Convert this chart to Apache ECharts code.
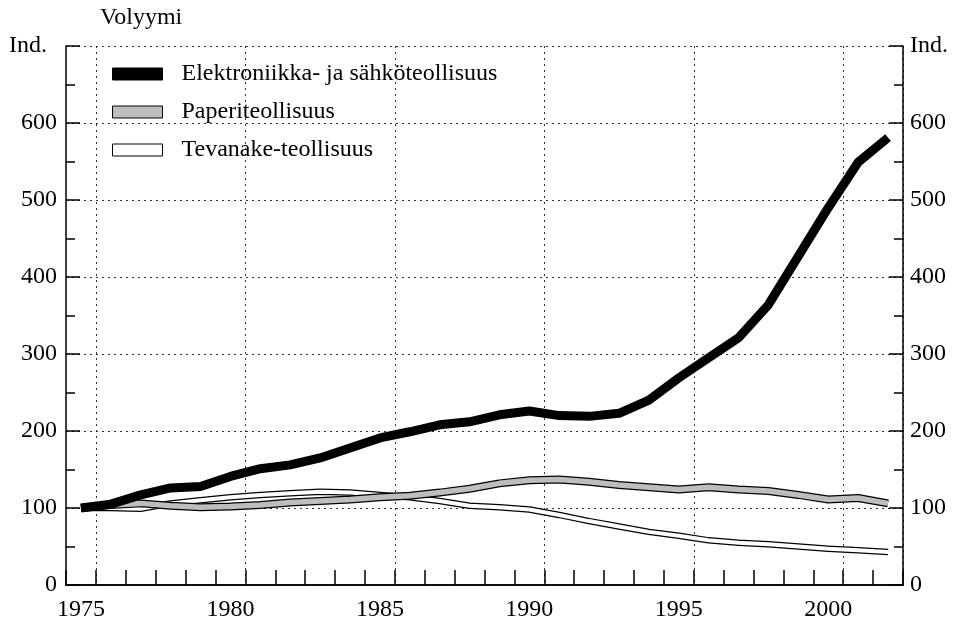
<!DOCTYPE html>
<html>
<head>
<meta charset="utf-8">
<script src="https://cdn.jsdelivr.net/npm/echarts@6/dist/echarts.min.js"></script>
<style>
  html, body { margin: 0; padding: 0; background: #fff; }
  #chart { width: 958px; height: 623px; }
</style>
</head>
<body>
<div id="chart"></div>
<script>
// vuodet 1975-2002, indeksi 1975 = 100
const years = ["1975", "1976", "1977", "1978", "1979", "1980", "1981", "1982", "1983", "1984",
  "1985", "1986", "1987", "1988", "1989", "1990", "1991", "1992", "1993", "1994",
  "1995", "1996", "1997", "1998", "1999", "2000", "2001", "2002"];

const elektroniikka = [100, 105, 117, 126, 128, 141, 151, 156, 165, 178,
  191, 199, 208, 212, 221, 226, 220, 219, 223, 240,
  269, 295, 321, 364, 427, 490, 549, 581];

const paperi = [100, 104, 106, 103, 101, 102, 104, 107, 109, 111,
  114, 116, 120, 125, 132, 136, 137, 134, 130, 127,
  124, 127, 124, 122, 117, 111, 113, 106];

const tevanake = [100, 100, 99, 106, 110, 114, 117, 119, 121, 120,
  117, 114, 109, 103, 101, 98, 91, 83, 76, 69,
  64, 58, 55, 53, 50, 47, 45, 43];

const yTicks = [0, 100, 200, 300, 400, 500, 600];

const names = ["Elektroniikka- ja sähköteollisuus", "Paperiteollisuus", "Tevanake-teollisuus"];

const font = "Liberation Serif";
const fs = 24;
const chart = echarts.init(document.getElementById("chart"));

function yLabel(v) {
  if (v === 700) return "Ind.";
  return yTicks.indexOf(v) >= 0 ? String(v) : "";
}

chart.setOption({
  animation: false,
  textStyle: { fontFamily: font, color: "#000" },
  graphic: [
    {
      type: "text",
      left: 100,
      top: 6,
      style: { text: "Volyymi", font: fs + "px " + font, fill: "#000" },
    },
  ],
  legend: {
    orient: "vertical",
    left: 107,
    top: 57,
    itemWidth: 50,
    itemHeight: 12,
    itemGap: 14,
    icon: "rect",
    selectedMode: false,
    textStyle: { fontFamily: font, fontSize: fs, color: "#000", lineHeight: 24, padding: [0, 0, 0, 14] },
    data: [
      { name: names[0], itemStyle: { color: "#000", borderColor: "#000", borderWidth: 1 } },
      { name: names[1], itemStyle: { color: "#bdbdbd", borderColor: "#000", borderWidth: 1 } },
      { name: names[2], itemStyle: { color: "#fff", borderColor: "#000", borderWidth: 1 } },
    ],
  },
  grid: { left: 66, right: 55, top: 46, bottom: 38 },
  xAxis: [
    {
      type: "category",
      data: years,
      boundaryGap: true,
      axisLine: { lineStyle: { color: "#000", width: 1.5 } },
      axisTick: { show: true, inside: true, length: 15, interval: 0, lineStyle: { color: "#000", width: 1.5 } },
      axisLabel: {
        interval: function (i) { return i % 5 === 0; },
        margin: 13,
        fontFamily: font,
        fontSize: fs,
        color: "#000",
      },
      splitLine: {
        show: true,
        interval: function (i) { return i % 5 === 1; },
        lineStyle: { color: "#333", width: 1, type: [2, 4] },
      },
    },
    {
      type: "category",
      data: years,
      position: "top",
      axisLine: { lineStyle: { color: "#000", width: 1.5 } },
      axisTick: { show: false },
      axisLabel: { show: false },
      splitLine: { show: false },
    },
  ],
  yAxis: [
    {
      type: "value",
      min: 0,
      max: 700,
      interval: 100,
      axisLine: { show: true, lineStyle: { color: "#000", width: 1.5 } },
      axisTick: { show: true, inside: true, length: 14, lineStyle: { color: "#000", width: 1.5 } },
      minorTick: { show: true, splitNumber: 2, length: 9, lineStyle: { color: "#000", width: 1.5 } },
      axisLabel: {
        margin: 9,
        fontFamily: font,
        fontSize: fs,
        color: "#000",
        formatter: function (v) {
          return v === 700 ? "{ind|Ind.}" : yLabel(v);
        },
        rich: { ind: { fontFamily: font, fontSize: fs, color: "#000", padding: [0, 10, 0, 0] } },
      },
      splitLine: { show: true, lineStyle: { color: "#333", width: 1, type: [2, 4] } },
    },
    {
      type: "value",
      position: "right",
      min: 0,
      max: 700,
      interval: 100,
      axisLine: { show: true, lineStyle: { color: "#000", width: 1.5 } },
      axisTick: { show: true, inside: true, length: 14, lineStyle: { color: "#000", width: 1.5 } },
      minorTick: { show: true, splitNumber: 2, length: 9, lineStyle: { color: "#000", width: 1.5 } },
      axisLabel: { margin: 7, fontFamily: font, fontSize: fs, color: "#000", formatter: yLabel },
      splitLine: { show: false },
    },
  ],
  series: [
    // valkoinen viiva mustalla reunalla = kaksi päällekkäistä viivaa
    {
      name: "tev_reuna", type: "line", data: tevanake, symbol: "none",
      lineStyle: { color: "#000", width: 6.5 }, itemStyle: { color: "#000" },
    },
    {
      name: names[2], type: "line", data: tevanake, symbol: "none",
      lineStyle: { color: "#fff", width: 4 }, itemStyle: { color: "#fff" },
    },
    {
      name: "pap_reuna", type: "line", data: paperi, symbol: "none",
      lineStyle: { color: "#000", width: 8 }, itemStyle: { color: "#000" },
    },
    {
      name: names[1], type: "line", data: paperi, symbol: "none",
      lineStyle: { color: "#bdbdbd", width: 5.5 }, itemStyle: { color: "#bdbdbd" },
    },
    {
      name: names[0], type: "line", data: elektroniikka, symbol: "none",
      lineStyle: { color: "#000", width: 9 }, itemStyle: { color: "#000" },
    },
  ],
});
</script>
</body>
</html>
